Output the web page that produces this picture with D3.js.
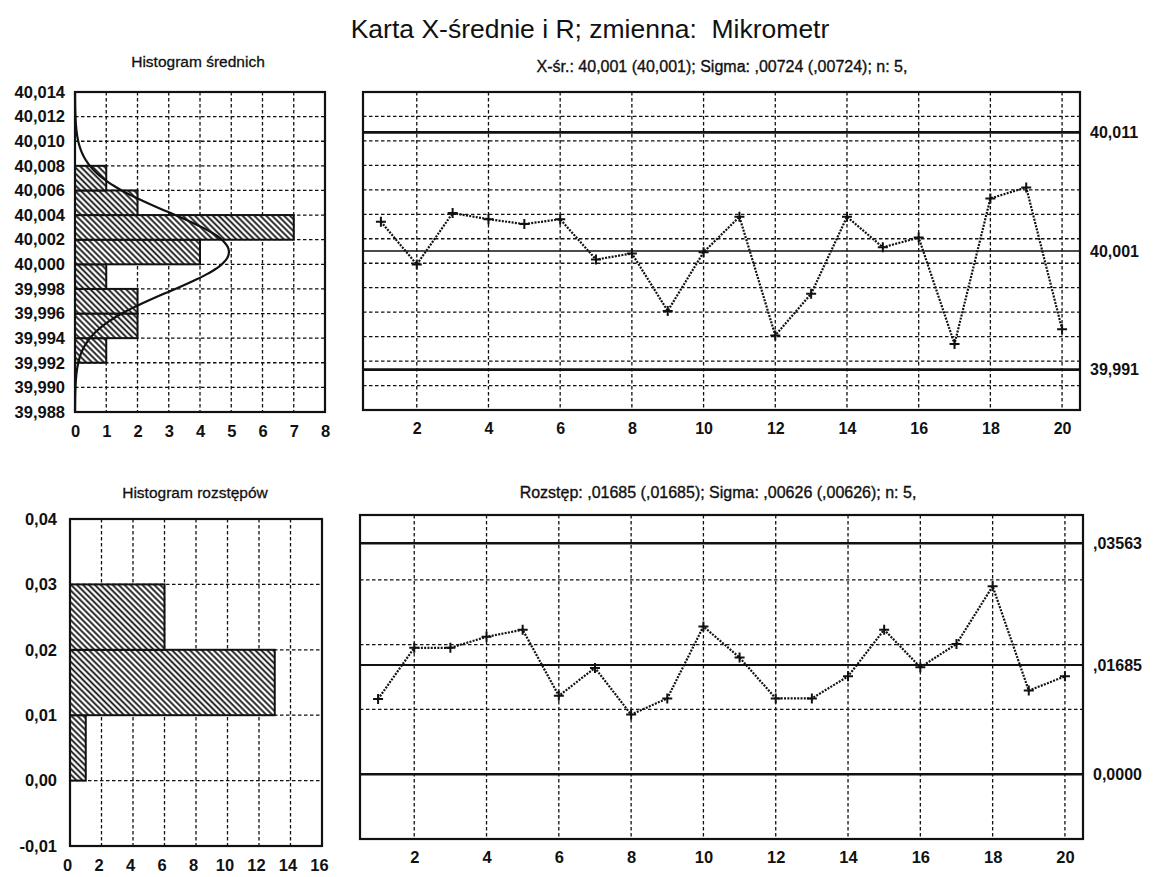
<!DOCTYPE html>
<html>
<head>
<meta charset="utf-8">
<script src="https://cdn.jsdelivr.net/npm/d3@7"></script>
<style>
  body { margin: 0; background: #fff; }
  text { font-family: "Liberation Sans", Arial, sans-serif; fill: #111; white-space: pre; }
</style>
</head>
<body>
<div id="chart"></div>
<script>
// sample numbers and the two series
const samples = [1, 2, 3, 4, 5, 6, 7, 8, 9, 10, 11, 12, 13, 14, 15, 16, 17, 18, 19, 20]
const xbarValues = [40.0034, 39.9999, 40.0041, 40.0036, 40.0032, 40.0036, 40.0003, 40.0008, 39.9961, 40.0009,
                    40.0038, 39.9941, 39.9975, 40.0038, 40.0013, 40.0021, 39.9934, 40.0053, 40.0062, 39.9946]
const rangeValues = [0.0116, 0.0195, 0.0195, 0.0212, 0.0223, 0.0121, 0.0164, 0.0092, 0.0117, 0.0228,
                     0.0180, 0.0117, 0.0117, 0.0151, 0.0223, 0.0165, 0.0201, 0.0290, 0.0129, 0.0151]

// histogram of means (bin lower edges, width 0.002)
const meanBinStart = [39.992, 39.994, 39.996, 39.998, 40.000, 40.002, 40.004, 40.006]
const meanBinCounts = [1, 2, 2, 1, 4, 7, 2, 1]
const meanBinWidth = 0.002
// histogram of ranges (bin lower edges, width 0.01)
const rangeBinStart = [0.00, 0.01, 0.02]
const rangeBinCounts = [1, 13, 6]
const rangeBinWidth = 0.01

// control lines
const xbarLimitValues = [40.0107, 40.001, 39.9913]
const xbarLimitLabels = ["40,011", "40,001", "39,991"]
const rLimitValues = [0.03563, 0.01685, 0]
const rLimitLabels = [",03563", ",01685", "0,0000"]
const xbarMean = 40.001
const xbarSigma = 0.00724 / Math.sqrt(5)
const nSamples = 20

// ticks
const meanTicks = [39.988, 39.990, 39.992, 39.994, 39.996, 39.998, 40.000, 40.002, 40.004, 40.006, 40.008, 40.010, 40.012, 40.014]
const meanCountTicks = [0, 1, 2, 3, 4, 5, 6, 7, 8]
const rangeTicks = [-0.01, 0.00, 0.01, 0.02, 0.03, 0.04]
const rangeCountTicks = [0, 2, 4, 6, 8, 10, 12, 14, 16]
const sampleTicks = [2, 4, 6, 8, 10, 12, 14, 16, 18, 20]

const title = "Karta X-średnie i R; zmienna:  Mikrometr"
const subtitleTop = "X-śr.: 40,001 (40,001); Sigma: ,00724 (,00724); n: 5,"
const subtitleBottom = "Rozstęp: ,01685 (,01685); Sigma: ,00626 (,00626); n: 5,"
const histTitleTop = "Histogram średnich"
const histTitleBottom = "Histogram rozstępów"

const pl = d3.formatLocale({decimal: ",", thousands: " ", grouping: [3], currency: ["", ""], minus: "-"})
const fmt3 = pl.format(".3f")
const fmt2 = pl.format(".2f")

let svg = d3.select("#chart").append("svg").attr("width", 1157).attr("height", 877)

let defs = svg.append("defs")
let pat = defs.append("pattern").attr("id", "hatch")
    .attr("patternUnits", "userSpaceOnUse").attr("width", 4.2).attr("height", 4.2)
    .attr("patternTransform", "rotate(-45)")
pat.append("rect").attr("width", 4.2).attr("height", 4.2).attr("fill", "#fff")
pat.append("line").attr("x1", 2.1).attr("x2", 2.1).attr("y1", 0).attr("y2", 4.2)
    .attr("stroke", "#111").attr("stroke-width", 1.8)

// panel boxes
const mh = {x0: 75, x1: 325, y0: 92, y1: 412}
const mc = {x0: 363, x1: 1080, y0: 92, y1: 410}
const rh = {x0: 70, x1: 322, y0: 519, y1: 846}
const rc = {x0: 360, x1: 1083, y0: 515, y1: 839}

let mhX = d3.scaleLinear([0, 8], [mh.x0, mh.x1])
let mhY = d3.scaleLinear([39.988, 40.014], [mh.y1, mh.y0])
let mcX = d3.scaleLinear([0.5, 20.5], [mc.x0, mc.x1])
let mcY = d3.scaleLinear([39.988, 40.014], [mc.y1, mc.y0])
let rhX = d3.scaleLinear([0, 16], [rh.x0, rh.x1])
let rhY = d3.scaleLinear([-0.01, 0.04], [rh.y1, rh.y0])
let rcX = d3.scaleLinear([0.5, 20.5], [rc.x0, rc.x1])
let rcY = d3.scaleLinear([-0.01, 0.04], [rc.y1, rc.y0])

const gridDash = "3.5,2.5"

function grid(box, xs, xVals, ys, yVals) {
    let g = svg.append("g").attr("stroke", "#111").attr("stroke-width", 1.3).attr("stroke-dasharray", gridDash)
    g.selectAll(".gx").data(xVals).enter().append("line")
        .attr("x1", d => xs(d)).attr("x2", d => xs(d))
        .attr("y1", box.y0).attr("y2", box.y1)
    g.selectAll(".gy").data(yVals).enter().append("line")
        .attr("y1", d => ys(d)).attr("y2", d => ys(d))
        .attr("x1", box.x0).attr("x2", box.x1)
}

function frame(box) {
    svg.append("rect").attr("x", box.x0).attr("y", box.y0)
        .attr("width", box.x1 - box.x0).attr("height", box.y1 - box.y0)
        .attr("fill", "none").attr("stroke", "#111").attr("stroke-width", 2.2)
}

function styleAxis(g, size) {
    g.select(".domain").remove()
    g.selectAll(".tick line").remove()
    g.selectAll("text").attr("font-size", size).attr("font-weight", "bold").attr("fill", "#111")
        .style("font-family", '"Liberation Sans", Arial, sans-serif')
}

// ---------- histogram of means ----------
grid(mh, mhX, [1, 2, 3, 4, 5, 6, 7], mhY, meanTicks.slice(1, -1))

svg.append("g").selectAll("rect").data(meanBinStart).enter().append("rect")
    .attr("x", mhX(0))
    .attr("y", d => mhY(d + meanBinWidth))
    .attr("width", (d, i) => mhX(meanBinCounts[i]) - mhX(0))
    .attr("height", d => mhY(d) - mhY(d + meanBinWidth))
    .attr("fill", "url(#hatch)").attr("stroke", "#111").attr("stroke-width", 2)

// fitted normal curve (expected count per bin)
let curveYs = d3.range(39.988, 40.0141, 0.0002)
let normal = y => nSamples * meanBinWidth / (xbarSigma * Math.sqrt(2 * Math.PI)) *
    Math.exp(-0.5 * Math.pow((y - xbarMean) / xbarSigma, 2))
svg.append("path").datum(curveYs)
    .attr("d", d3.line().x(d => mhX(normal(d))).y(d => mhY(d)).curve(d3.curveBasis))
    .attr("fill", "none").attr("stroke", "#111").attr("stroke-width", 2.2)

frame(mh)

svg.append("g").attr("transform", `translate(${mh.x0 - 10},0)`)
    .call(d3.axisLeft(mhY).tickValues(meanTicks).tickFormat(fmt3).tickSize(0).tickPadding(0))
    .call(g => styleAxis(g, 16.5))
svg.append("g").attr("transform", `translate(0,${mh.y1 + 13})`)
    .call(d3.axisBottom(mhX).tickValues(meanCountTicks).tickFormat(d3.format("d")).tickSize(0).tickPadding(0))
    .call(g => styleAxis(g, 16.5))

svg.append("text").attr("x", 198).attr("y", 67).attr("text-anchor", "middle")
    .attr("font-size", 15.5).attr("stroke", "#111").attr("stroke-width", 0.3).text(histTitleTop)

// ---------- X-bar chart ----------
grid(mc, mcX, sampleTicks, mcY, meanTicks.slice(1, -1))

svg.append("g").selectAll("line").data(xbarLimitValues).enter().append("line")
    .attr("x1", mc.x0).attr("x2", mc.x1)
    .attr("y1", d => mcY(d)).attr("y2", d => mcY(d))
    .attr("stroke", "#111").attr("stroke-width", (d, i) => i === 1 ? 1.6 : 2.6)

svg.append("path").datum(xbarValues)
    .attr("d", d3.line().x((d, i) => mcX(samples[i])).y(d => mcY(d)))
    .attr("fill", "none").attr("stroke", "#111").attr("stroke-width", 2.2).attr("stroke-dasharray", "2,1.3")

svg.append("g").selectAll("path").data(xbarValues).enter().append("path")
    .attr("transform", (d, i) => `translate(${mcX(samples[i])},${mcY(d)})`)
    .attr("d", "M-5,0H5M0,-5V5").attr("stroke", "#111").attr("stroke-width", 2)

frame(mc)

svg.append("g").selectAll("text").data(xbarLimitValues).enter().append("text")
    .attr("x", mc.x1 + 10).attr("y", d => mcY(d)).attr("dy", "0.35em")
    .attr("font-size", 16).attr("font-weight", "bold").text((d, i) => xbarLimitLabels[i])

svg.append("g").attr("transform", `translate(0,${mc.y1 + 13})`)
    .call(d3.axisBottom(mcX).tickValues(sampleTicks).tickFormat(d3.format("d")).tickSize(0).tickPadding(0))
    .call(g => styleAxis(g, 16))

svg.append("text").attr("x", 722).attr("y", 72).attr("text-anchor", "middle")
    .attr("font-size", 16).attr("stroke", "#111").attr("stroke-width", 0.35).text(subtitleTop)

// ---------- histogram of ranges ----------
grid(rh, rhX, [2, 4, 6, 8, 10, 12, 14], rhY, [0.00, 0.01, 0.02, 0.03])

svg.append("g").selectAll("rect").data(rangeBinStart).enter().append("rect")
    .attr("x", rhX(0))
    .attr("y", d => rhY(d + rangeBinWidth))
    .attr("width", (d, i) => rhX(rangeBinCounts[i]) - rhX(0))
    .attr("height", d => rhY(d) - rhY(d + rangeBinWidth))
    .attr("fill", "url(#hatch)").attr("stroke", "#111").attr("stroke-width", 2)

frame(rh)

svg.append("g").attr("transform", `translate(${rh.x0 - 13},0)`)
    .call(d3.axisLeft(rhY).tickValues(rangeTicks).tickFormat(fmt2).tickSize(0).tickPadding(0))
    .call(g => styleAxis(g, 16.5))
svg.append("g").attr("transform", `translate(-3,${rh.y1 + 13})`)
    .call(d3.axisBottom(rhX).tickValues(rangeCountTicks).tickFormat(d3.format("d")).tickSize(0).tickPadding(0))
    .call(g => styleAxis(g, 16.5))

svg.append("text").attr("x", 195).attr("y", 498).attr("text-anchor", "middle")
    .attr("font-size", 15.5).attr("stroke", "#111").attr("stroke-width", 0.3).text(histTitleBottom)

// ---------- R chart ----------
grid(rc, rcX, sampleTicks, rcY, [0.00, 0.01, 0.02, 0.03])

svg.append("g").selectAll("line").data(rLimitValues).enter().append("line")
    .attr("x1", rc.x0).attr("x2", rc.x1)
    .attr("y1", d => rcY(d)).attr("y2", d => rcY(d))
    .attr("stroke", "#111").attr("stroke-width", (d, i) => i === 1 ? 2 : 2.6)

svg.append("path").datum(rangeValues)
    .attr("d", d3.line().x((d, i) => rcX(samples[i])).y(d => rcY(d)))
    .attr("fill", "none").attr("stroke", "#111").attr("stroke-width", 2.2).attr("stroke-dasharray", "2,1.3")

svg.append("g").selectAll("path").data(rangeValues).enter().append("path")
    .attr("transform", (d, i) => `translate(${rcX(samples[i])},${rcY(d)})`)
    .attr("d", "M-5,0H5M0,-5V5").attr("stroke", "#111").attr("stroke-width", 2)

frame(rc)

svg.append("g").selectAll("text").data(rLimitValues).enter().append("text")
    .attr("x", rc.x1 + 10).attr("y", d => rcY(d)).attr("dy", "0.35em")
    .attr("font-size", 16).attr("font-weight", "bold").text((d, i) => rLimitLabels[i])

svg.append("g").attr("transform", `translate(0,${rc.y1 + 12})`)
    .call(d3.axisBottom(rcX).tickValues(sampleTicks).tickFormat(d3.format("d")).tickSize(0).tickPadding(0))
    .call(g => styleAxis(g, 16.5))

svg.append("text").attr("x", 718).attr("y", 498).attr("text-anchor", "middle")
    .attr("font-size", 16).attr("stroke", "#111").attr("stroke-width", 0.35).text(subtitleBottom)

// main title
svg.append("text").attr("x", 590).attr("y", 38).attr("text-anchor", "middle")
    .attr("font-size", 26.5).text(title)
</script>
</body>
</html>
